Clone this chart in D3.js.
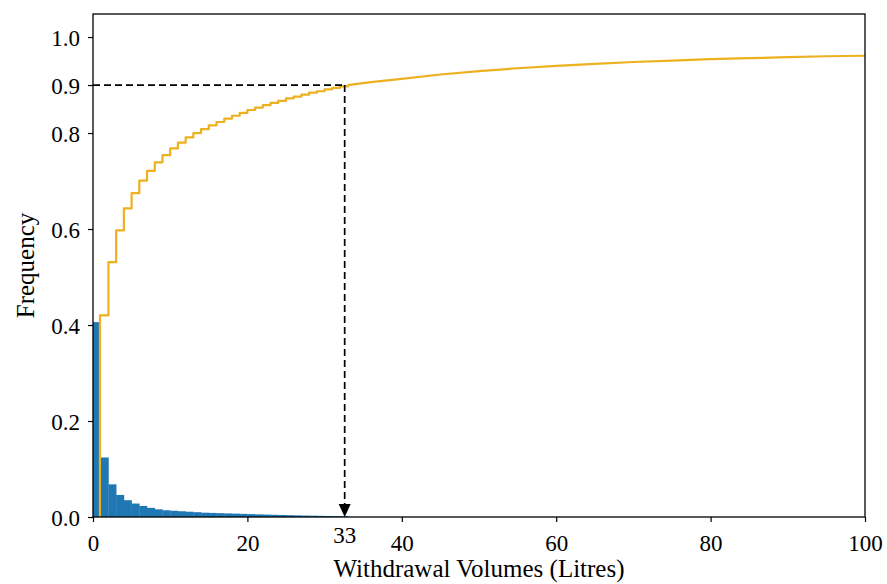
<!DOCTYPE html>
<html>
<head>
<meta charset="utf-8">
<script src="https://cdn.jsdelivr.net/npm/d3@7"></script>
<style>
  html, body { margin: 0; padding: 0; background: #fff; }
  svg { display: block; }
  text { font-family: "Liberation Serif", "Times New Roman", serif; fill: #000; }
</style>
</head>
<body>
<svg id="chart" width="887" height="584"></svg>
<script>
// ---------------- data ----------------
// histogram: relative frequency per 1-litre bin, bins start at 0,1,2,...
const histBinStart = d3.range(0, 33);
const histFreq = [0.406, 0.124, 0.068, 0.046, 0.035, 0.028, 0.023, 0.019, 0.016, 0.014,
                  0.013, 0.012, 0.011, 0.010, 0.009, 0.0085, 0.008, 0.0075, 0.007, 0.0065,
                  0.006, 0.0055, 0.005, 0.0046, 0.0042, 0.0038, 0.0034, 0.003, 0.0027, 0.0024,
                  0.0021, 0.0018, 0.0015];
// cumulative frequency, stepped part
const cdfStepX = [0.9, 2, 3, 4, 5, 6, 7, 8, 9, 10, 11, 12, 13, 14, 15, 16, 17, 18, 19, 20,
                  21, 22, 23, 24, 25, 26, 27, 28, 29, 30, 31, 32, 33];
const cdfStepY = [0.42, 0.531, 0.597, 0.643, 0.675, 0.701, 0.721, 0.739, 0.754, 0.768,
                  0.780, 0.791, 0.800, 0.808, 0.816, 0.823, 0.830, 0.836, 0.842, 0.848,
                  0.853, 0.858, 0.863, 0.867, 0.872, 0.876, 0.880, 0.884, 0.887, 0.891,
                  0.894, 0.897, 0.900];
// cumulative frequency, smooth tail
const cdfTailX = [33, 36, 40, 45, 50, 55, 60, 65, 70, 75, 80, 85, 90, 95, 100];
const cdfTailY = [0.900, 0.906, 0.913, 0.922, 0.929, 0.935, 0.940, 0.944, 0.948, 0.951,
                  0.954, 0.956, 0.958, 0.960, 0.961];
const xTicks = [0, 20, 40, 60, 80, 100];
const yTicks = [0.0, 0.2, 0.4, 0.6, 0.8, 0.9, 1.0];
const markerX = 32.6;      // position of the 90th percentile marker
const markerLabel = "33";
const markerY = 0.9;
const xLabel = "Withdrawal Volumes (Litres)";
const yLabel = "Frequency";

// ---------------- layout ----------------
const W = 887, H = 584;
const m = { left: 93, right: 22, top: 14, bottom: 67 };
const svg = d3.select("#chart");
const x = d3.scaleLinear().domain([0, 100]).range([m.left, W - m.right]);
const y = d3.scaleLinear().domain([0, 1.048]).range([H - m.bottom, m.top]);
const barColor = "#1f77b4";
const lineColor = "#edb120";

// bars
svg.append("g").selectAll("rect")
  .data(histBinStart.map((b, i) => ({ b, v: histFreq[i] })))
  .join("rect")
  .attr("x", d => x(d.b))
  .attr("width", d => x(d.b + 1) - x(d.b) + 0.3)
  .attr("y", d => y(d.v))
  .attr("height", d => y(0) - y(d.v))
  .attr("fill", barColor);

// CDF
const stepPts = [[cdfStepX[0], 0]].concat(cdfStepX.map((v, i) => [v, cdfStepY[i]]));
svg.append("path")
  .attr("d", d3.line().x(d => x(d[0])).y(d => y(d[1])).curve(d3.curveStepAfter)(stepPts))
  .attr("fill", "none").attr("stroke", lineColor).attr("stroke-width", 2.2)
  .attr("stroke-linejoin", "round");
svg.append("path")
  .attr("d", d3.line().x(d => x(d[0])).y(d => y(d[1]))(cdfTailX.map((v, i) => [v, cdfTailY[i]])))
  .attr("fill", "none").attr("stroke", lineColor).attr("stroke-width", 2.2)
  .attr("stroke-linejoin", "round");

// dashed guide lines + arrow
const dash = "7,4";
svg.append("line")
  .attr("x1", x(0)).attr("x2", x(markerX)).attr("y1", y(markerY)).attr("y2", y(markerY))
  .attr("stroke", "#000").attr("stroke-width", 1.7).attr("stroke-dasharray", dash);
svg.append("line")
  .attr("x1", x(markerX)).attr("x2", x(markerX)).attr("y1", y(markerY)).attr("y2", y(0) - 12)
  .attr("stroke", "#000").attr("stroke-width", 1.7).attr("stroke-dasharray", dash);
svg.append("path")
  .attr("d", `M${x(markerX) - 6},${y(0) - 13} L${x(markerX) + 6},${y(0) - 13} L${x(markerX)},${y(0)} Z`)
  .attr("fill", "#000");

// frame
svg.append("rect")
  .attr("x", m.left).attr("y", m.top)
  .attr("width", W - m.left - m.right).attr("height", H - m.top - m.bottom)
  .attr("fill", "none").attr("stroke", "#000").attr("stroke-width", 1.3);

// axes
const fs = 23;
const gx = svg.append("g").attr("transform", `translate(0,${y(0)})`)
  .call(d3.axisBottom(x).tickValues(xTicks).tickFormat(d3.format("d")).tickSize(5).tickPadding(6));
gx.select(".domain").remove();
gx.selectAll("line").attr("stroke", "#000").attr("stroke-width", 1.2);
gx.selectAll("text").attr("font-size", fs).attr("font-family", "Liberation Serif, serif")
  .attr("y", 34).attr("dy", 0);

const gy = svg.append("g").attr("transform", `translate(${m.left},0)`)
  .call(d3.axisLeft(y).tickValues(yTicks).tickFormat(d3.format(".1f")).tickSize(5).tickPadding(8));
gy.select(".domain").remove();
gy.selectAll("line").attr("stroke", "#000").attr("stroke-width", 1.2);
gy.selectAll("text").attr("font-size", fs).attr("font-family", "Liberation Serif, serif")
  .attr("dy", "0.35em");

// marker label
svg.append("text")
  .attr("x", x(markerX)).attr("y", y(0) + 26)
  .attr("text-anchor", "middle").attr("font-size", fs)
  .text(markerLabel);

// axis titles
svg.append("text")
  .attr("x", (m.left + W - m.right) / 2).attr("y", 577)
  .attr("text-anchor", "middle").attr("font-size", 25)
  .text(xLabel);
svg.append("text")
  .attr("transform", `translate(34,${(m.top + H - m.bottom) / 2}) rotate(-90)`)
  .attr("text-anchor", "middle").attr("font-size", 25)
  .text(yLabel);
</script>
</body>
</html>
